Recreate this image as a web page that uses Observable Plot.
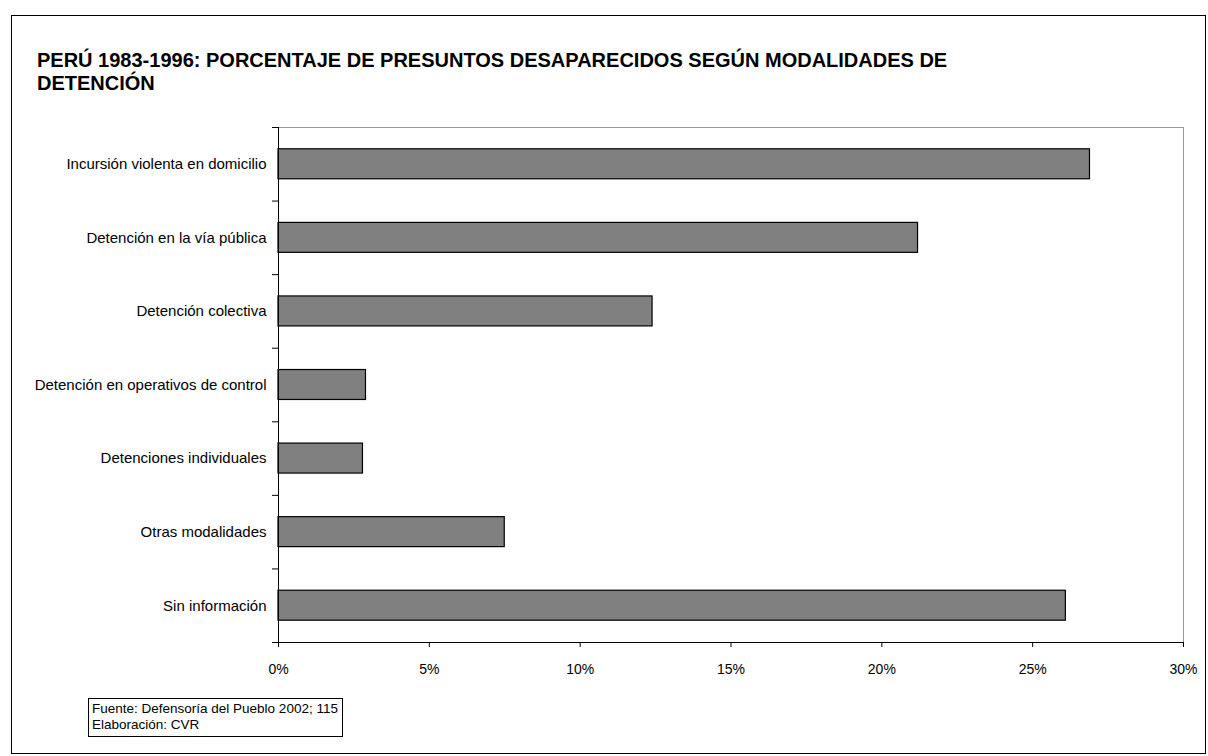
<!DOCTYPE html>
<html>
<head>
<meta charset="utf-8">
<script src="https://cdn.jsdelivr.net/npm/d3@7"></script>
<script src="https://cdn.jsdelivr.net/npm/@observablehq/plot@0.6"></script>
<style>
  html, body { margin: 0; padding: 0; background: #fff; }
  #wrap { position: relative; width: 1208px; height: 756px; overflow: hidden; font-family: "Liberation Sans", Arial, sans-serif; }
  #border { position: absolute; left: 11px; top: 15px; width: 1195px; height: 739px; border: 1px solid #000; box-sizing: border-box; }
  #title { position: absolute; left: 37px; top: 49px; font-weight: bold; font-size: 20px; line-height: 23px; color: #000; }
  #chart { position: absolute; left: 0; top: 0; }
  #note { position: absolute; left: 88px; top: 698px; width: 255px; height: 39px; border: 1px solid #000; box-sizing: border-box; font-size: 13.5px; line-height: 16px; padding: 2px 0 0 3px; color: #000; white-space: nowrap; }
</style>
</head>
<body>
<div id="wrap">
  <div id="border"></div>
  <div id="chart"></div>
  <div id="title">PERÚ 1983-1996: PORCENTAJE DE PRESUNTOS DESAPARECIDOS SEGÚN MODALIDADES DE<br>DETENCIÓN</div>
  <div id="note">Fuente: Defensoría del Pueblo 2002; 115<br>Elaboración: CVR</div>
</div>
<script>
const categories = [
  "Incursión violenta en domicilio",
  "Detención en la vía pública",
  "Detención colectiva",
  "Detención en operativos de control",
  "Detenciones individuales",
  "Otras modalidades",
  "Sin información"
];
const values = [26.9, 21.2, 12.4, 2.9, 2.8, 7.5, 26.1];
const xTicks = [0, 5, 10, 15, 20, 25, 30];

const data = categories.map((c, i) => ({ category: c, i, value: values[i] }));
const boundaries = d3.range(0, categories.length + 1);
const centers = categories.map((c, i) => i + 0.5);

const chart = Plot.plot({
  width: 1208,
  height: 756,
  marginLeft: 278,
  marginRight: 25,
  marginTop: 127,
  marginBottom: 114,
  x: { domain: [0, 30], label: null },
  y: { domain: [0, categories.length], reverse: true, label: null },
  style: { fontFamily: "'Liberation Sans', Arial, sans-serif", fontSize: "14px", background: "transparent", color: "#000" },
  marks: [
    Plot.frame({ stroke: "#999" }),
    Plot.rect(data, {
      x1: () => 0, x2: "value", y1: d => d.i, y2: d => d.i + 1,
      insetTop: 21.8, insetBottom: 21.8,
      fill: "#808080", stroke: "#000", strokeWidth: 1.2
    }),
    Plot.ruleX([0], { stroke: "#000" }),
    Plot.ruleY([categories.length], { stroke: "#000" }),
    Plot.axisX({ ticks: xTicks, tickFormat: d => d + "%", tickSize: 5, tickPadding: 17, fontSize: 14, label: null }),
    Plot.axisY({ ticks: boundaries, tickSize: 6, tickFormat: () => "", label: null }),
    Plot.axisY({ ticks: centers, tickSize: 0, tickPadding: 12, fontSize: 15, label: null, tickFormat: v => categories[Math.round(v - 0.5)] })
  ]
});
document.getElementById("chart").appendChild(chart);
</script>
</body>
</html>
